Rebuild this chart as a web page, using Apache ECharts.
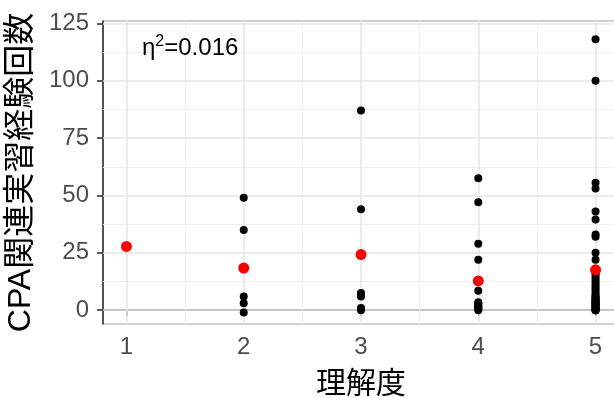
<!DOCTYPE html>
<html>
<head>
<meta charset="utf-8">
<script src="https://cdn.jsdelivr.net/npm/echarts@6/dist/echarts.min.js"></script>
<style>
  html, body { margin: 0; padding: 0; background: #fff; }
  #chart { width: 614px; height: 398px; }
</style>
</head>
<body>
<div id="chart"></div>
<script>
// Understanding level (x) and number of CPA-related practical training sessions (y)
const levels = [1, 2, 3, 4, 5];
const countsLevel1 = [27.8];
const countsLevel2 = [49, 35, 6, 3, -1];
const countsLevel3 = [87, 44, 7.5, 6, 1, 0];
const countsLevel4 = [57.5, 47, 29, 22, 8.5, 3.5, 3, 2.5, 2, 1.5, 1, 1, 0.5, 0];
const countsLevel5 = [118, 100, 55.5, 53, 43, 39.5, 33, 32, 25, 22,
  17, 16, 15, 14, 13, 12, 11, 10, 9, 8, 7, 6, 6, 5, 5, 4, 4, 4,
  3, 3, 3, 2, 2, 2, 1, 1, 1, 0, 0, 0];

const yTicks = [0, 25, 50, 75, 100, 125];
const yMinorTicks = [12.5, 37.5, 62.5, 87.5, 112.5];
const xTicks = [1, 2, 3, 4, 5];
const xMinorTicks = [1.5, 2.5, 3.5, 4.5];
// effect size label: η² = 0.016
const effectBase = 'η';
const effectSup = '2';
const effectValue = '=0.016';

const groups = [countsLevel1, countsLevel2, countsLevel3, countsLevel4, countsLevel5];

const points = [];
groups.forEach((vals, i) => vals.forEach(v => points.push([levels[i], v])));
const means = groups.map((vals, i) =>
  [levels[i], vals.reduce((a, b) => a + b, 0) / vals.length]);

const gridLines = [
  ...yMinorTicks.map(v => ({ yAxis: v, lineStyle: { color: '#f0f0f0', width: 1 } })),
  ...xMinorTicks.map(v => ({ xAxis: v, lineStyle: { color: '#f0f0f0', width: 1 } })),
  ...yTicks.map(v => ({ yAxis: v, lineStyle: { color: '#e6e6e6', width: 1.6 } })),
  ...xTicks.map(v => ({ xAxis: v, lineStyle: { color: '#e6e6e6', width: 1.6 } }))
];

const labelFont = '"Liberation Sans", Arial, sans-serif';
const titleFont = '"Liberation Sans", "Noto Sans CJK JP", sans-serif';

const chart = echarts.init(document.getElementById('chart'), null, { renderer: 'canvas' });
chart.setOption({
  animation: false,
  backgroundColor: '#ffffff',
  title: {
    text: '{b|' + effectBase + '}{s|' + effectSup + '}{b|' + effectValue + '}',
    left: 142,
    top: 32,
    padding: 0,
    textStyle: {
      fontFamily: labelFont, fontSize: 24, fontWeight: 'normal', color: '#000',
      rich: {
        b: { fontFamily: labelFont, fontSize: 24, color: '#000', lineHeight: 28, verticalAlign: 'bottom' },
        s: { fontFamily: labelFont, fontSize: 16, color: '#000', lineHeight: 28, verticalAlign: 'top', padding: [2, 0, 0, 0] }
      }
    }
  },
  grid: {
    left: 103, top: 21, width: 516, height: 303,
    outerBoundsMode: 'none',
    containLabel: false,
    show: true, borderColor: '#a0a0a0', borderWidth: 1, backgroundColor: 'transparent'
  },
  xAxis: {
    type: 'value', min: 0.8, max: 5.2,
    name: '理解度', nameLocation: 'middle', nameGap: 46,
    nameTextStyle: { fontFamily: titleFont, fontSize: 30, color: '#000' },
    axisLine: { show: true, lineStyle: { color: '#333', width: 1.6 } },
    axisTick: { show: true, customValues: xTicks, length: 6, lineStyle: { color: '#333', width: 1.6 } },
    axisLabel: { customValues: xTicks, fontFamily: labelFont, fontSize: 24, color: '#4d4d4d', margin: 11 },
    splitLine: { show: false }
  },
  yAxis: {
    type: 'value', min: -6, max: 126,
    name: 'CPA関連実習経験回数', nameLocation: 'middle', nameGap: 66, nameRotate: 90,
    nameTextStyle: { fontFamily: titleFont, fontSize: 32, color: '#000' },
    axisLine: { show: true, lineStyle: { color: '#333', width: 1.6 } },
    axisTick: { show: true, customValues: yTicks, length: 6, lineStyle: { color: '#333', width: 1.6 } },
    axisLabel: { customValues: yTicks, fontFamily: labelFont, fontSize: 24, color: '#4d4d4d', margin: 14 },
    splitLine: { show: false }
  },
  series: [
    {
      type: 'scatter', data: [], z: 1, silent: true,
      markLine: {
        silent: true, symbol: 'none', z: 1, animation: false,
        label: { show: false },
        lineStyle: { type: 'solid' },
        emphasis: { disabled: true },
        data: gridLines
      }
    },
    {
      type: 'scatter', data: points, z: 3,
      symbol: 'circle', symbolSize: 8,
      itemStyle: { color: '#000', opacity: 1 }
    },
    {
      type: 'scatter', data: means, z: 4,
      symbol: 'circle', symbolSize: 11,
      itemStyle: { color: '#ff0000', opacity: 1 }
    }
  ]
});
</script>
</body>
</html>
